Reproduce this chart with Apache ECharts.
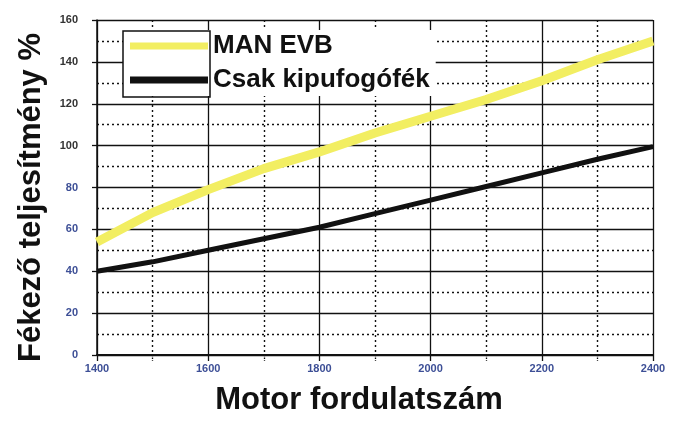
<!DOCTYPE html>
<html>
<head>
<meta charset="utf-8">
<script src="https://cdn.jsdelivr.net/npm/echarts@6/dist/echarts.min.js"></script>
<style>html,body{margin:0;padding:0;background:#fff}#c{width:693px;height:431px}</style>
</head>
<body>
<div id="c"></div>
<script>
const rpm = [1400, 1500, 1600, 1700, 1800, 1900, 2000, 2100, 2200, 2300, 2400];
const manEvb = [54, 68, 79, 89, 97, 106, 114, 122, 131, 141, 150];
const exhaustOnly = [40, 44.5, 50, 55.5, 61, 67.5, 74, 80.5, 87, 93.5, 99.5];
const seriesNames = ['MAN EVB', 'Csak kipufogófék'];
const xName = 'Motor fordulatszám';
const yName = 'Fékező teljesítmény %';

const chart = echarts.init(document.getElementById('c'));
const font = 'Liberation Sans, Arial, sans-serif';
chart.setOption({
  backgroundColor: '#fff',
  animation: false,
  grid: { left: 97, right: 40, top: 20, bottom: 76 },
  legend: {
    data: seriesNames,
    orient: 'vertical',
    left: 123, top: 30,
    padding: [3, 6, 3, 7],
    itemGap: 8,
    itemWidth: 78, itemHeight: 7,
    itemTextGap: 10,
    icon: 'rect',
    backgroundColor: '#fff',
    textStyle: { fontSize: 26, fontWeight: 'bold', color: '#111', fontFamily: font }
  },
  graphic: [{
    type: 'rect', z: 100,
    shape: { x: 123, y: 31, width: 87, height: 66 },
    style: { fill: 'none', stroke: '#111', lineWidth: 1.5 }
  }],
  xAxis: {
    type: 'value', min: 1400, max: 2400, interval: 200,
    name: xName, nameLocation: 'middle', nameGap: 30,
    nameTextStyle: { fontSize: 31, fontWeight: 'bold', color: '#111', fontFamily: font, padding: [0, 32, 0, 0] },
    axisLine: { show: true, lineStyle: { color: '#111', width: 2 } },
    axisTick: { show: true, length: 6, lineStyle: { color: '#111', width: 1.3 } },
    minorTick: { show: true, splitNumber: 2, length: 6, lineStyle: { color: '#111', width: 1.3, type: 'dotted' } },
    axisLabel: { fontSize: 11, fontWeight: 'bold', color: '#3d4f96', margin: 8, fontFamily: font, formatter: v => String(v) },
    splitLine: { show: true, lineStyle: { color: '#111', width: 1.3 } },
    minorSplitLine: { show: true, lineStyle: { color: '#111', width: 1.4, type: [2, 3] } }
  },
  yAxis: {
    type: 'value', min: 0, max: 160, interval: 20,
    name: yName, nameLocation: 'middle', nameGap: 50,
    nameTextStyle: { fontSize: 31, fontWeight: 'bold', color: '#111', fontFamily: font, padding: [0, 20, 0, 0] },
    axisLine: { show: true, lineStyle: { color: '#111', width: 1.5 } },
    axisTick: { show: true, length: 5, lineStyle: { color: '#111', width: 1.3 } },
    minorTick: { show: false, splitNumber: 2 },
    axisLabel: {
      fontSize: 11, fontWeight: 'bold', margin: 19, fontFamily: font,
      formatter: v => String(v),
      color: function (v) { return v >= 100 ? '#333' : '#3d4f96'; }
    },
    splitLine: { show: true, lineStyle: { color: '#111', width: 1.3 } },
    minorSplitLine: { show: true, lineStyle: { color: '#111', width: 1.4, type: [2, 3] } }
  },
  series: [
    {
      name: seriesNames[0], type: 'line', symbol: 'none',
      data: rpm.map((x, i) => [x, manEvb[i]]),
      lineStyle: { color: '#f2ee62', width: 9 },
      itemStyle: { color: '#f2ee62' }
    },
    {
      name: seriesNames[1], type: 'line', symbol: 'none',
      data: rpm.map((x, i) => [x, exhaustOnly[i]]),
      lineStyle: { color: '#111', width: 5 },
      itemStyle: { color: '#111' }
    }
  ]
});
</script>
</body>
</html>
